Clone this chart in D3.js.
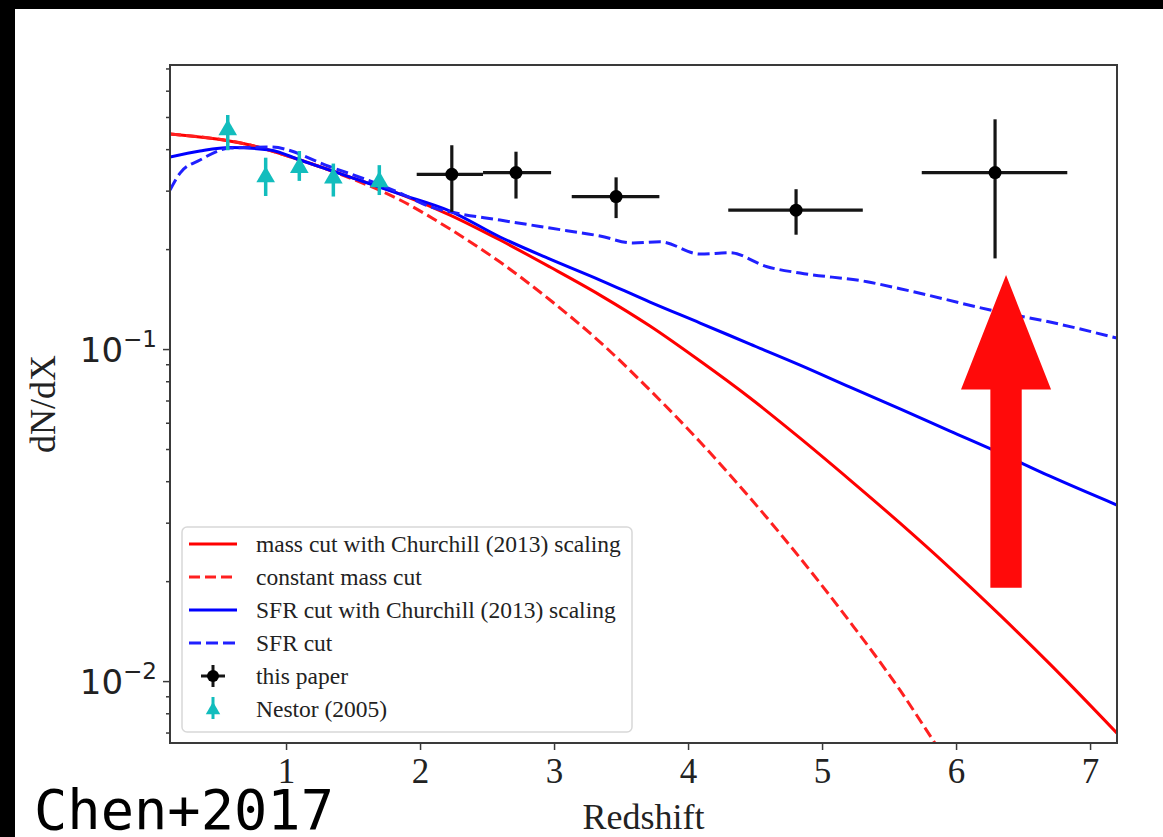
<!DOCTYPE html>
<html>
<head>
<meta charset="utf-8">
<script src="https://cdn.jsdelivr.net/npm/d3@7"></script>
<style>
  html, body { margin: 0; background: #000; }
  svg { display: block; }
</style>
</head>
<body>
<svg id="chart" width="1163" height="837"></svg>
<script>
// model curves: [redshift, dN/dX]
const massChurchill = [[0.134,0.4443],[0.731,0.4116],[1.104,0.371],[1.478,0.3296],[1.851,0.293],[2.224,0.2533],
  [2.597,0.213],[2.970,0.1766],[3.343,0.1454],[3.716,0.1173],[4.090,0.092],[4.463,0.0712],[4.836,0.0539],
  [5.209,0.0403],[5.582,0.0299],[5.955,0.0219],[6.328,0.0158],[6.701,0.01125],[7.201,0.00697]];
const constMass = [[0.134,0.4443],[0.731,0.4116],[1.104,0.371],[1.478,0.3274],[1.851,0.2811],[2.224,0.2298],
  [2.597,0.1828],[2.970,0.1405],[3.343,0.105],[3.716,0.0752],[4.090,0.0525],[4.463,0.0356],[4.836,0.02348],
  [5.209,0.01506],[5.582,0.00939],[5.828,0.00664],[5.955,0.00555]];
const sfrChurchill = [[0.134,0.3787],[0.358,0.3948],[0.582,0.4045],[0.881,0.3976],[1.104,0.371],[1.478,0.3296],
  [1.851,0.293],[2.224,0.2604],[2.597,0.2175],[2.970,0.1866],[3.343,0.1614],[3.716,0.1385],[4.090,0.1198],
  [4.463,0.1035],[4.836,0.0895],[5.209,0.0768],[5.582,0.066],[5.955,0.0566],[6.328,0.0486],[6.701,0.0414],
  [7.201,0.0339]];
const sfrCut = [[0.134,0.3012],[0.209,0.3389],[0.358,0.371],[0.582,0.4031],[0.881,0.4059],[1.328,0.3541],
  [1.851,0.2951],[2.075,0.2683],[2.224,0.259],[2.597,0.2446],[2.970,0.2314],[3.343,0.219],[3.590,0.2086],
  [3.791,0.2105],[4.090,0.1932],[4.313,0.195],[4.590,0.1769],[4.836,0.1694],[5.336,0.1595],[5.582,0.152],
  [6.328,0.1292],[6.701,0.1206],[7.201,0.1079]];

// this paper: z, z range, dN/dX, dN/dX range
const paperZ   = [2.237, 2.716, 3.463, 4.806, 6.291];
const paperZlo = [1.975, 2.470, 3.132, 4.300, 5.744];
const paperZhi = [2.470, 2.978, 3.786, 5.304, 6.830];
const paperN   = [0.336, 0.340, 0.288, 0.262, 0.340];
const paperNlo = [0.259, 0.284, 0.248, 0.221, 0.1875];
const paperNhi = [0.411, 0.393, 0.329, 0.303, 0.492];

// Nestor (2005)
const nestorZ   = [0.565, 0.848, 1.099, 1.353, 1.696];
const nestorN   = [0.457, 0.330, 0.352, 0.327, 0.319];
const nestorNlo = [0.397, 0.289, 0.321, 0.288, 0.291];
const nestorNhi = [0.507, 0.377, 0.395, 0.362, 0.358];

const xTicks = [1, 2, 3, 4, 5, 6, 7];
const yMajor = [0.01, 0.1];
const yMinor = [0.007, 0.008, 0.009, 0.02, 0.03, 0.04, 0.05, 0.06, 0.07, 0.08, 0.09, 0.2, 0.3, 0.4, 0.5, 0.6, 0.7];

const legendLabels = ["mass cut with Churchill (2013) scaling", "constant mass cut",
  "SFR cut with Churchill (2013) scaling", "SFR cut", "this paper", "Nestor (2005)"];

// annotation arrow (data coords)
const arrowZ = 6.373, arrowTip = 0.167, arrowHeadBase = 0.0756, arrowTail = 0.0191;
const arrowHeadHalf = 0.336, arrowShaftHalf = 0.117;

const svg = d3.select("#chart");
const margin = { left: 170, top: 65, right: 1117, bottom: 743 };

svg.append("rect").attr("x", 15).attr("y", 9).attr("width", 1148).attr("height", 828).attr("fill", "#fff");

const x = d3.scaleLinear().domain([0.134, 7.201]).range([margin.left, margin.right]);
const y = d3.scaleLog().domain([0.00651, 0.717]).range([margin.bottom, margin.top]);

svg.append("clipPath").attr("id", "clip").append("rect")
  .attr("x", margin.left).attr("y", margin.top)
  .attr("width", margin.right - margin.left).attr("height", margin.bottom - margin.top);

const plot = svg.append("g").attr("clip-path", "url(#clip)");

const line = d3.line().x(d => x(d[0])).y(d => y(d[1])).curve(d3.curveMonotoneX);

const curves = [
  { data: massChurchill, color: "#ff0000", dash: null },
  { data: constMass, color: "#ff2020", dash: "11,5" },
  { data: sfrChurchill, color: "#0000ff", dash: null },
  { data: sfrCut, color: "#2020ff", dash: "12,5" }
];

curves.forEach(c => {
  plot.append("path").datum(c.data)
    .attr("d", line)
    .attr("fill", "none")
    .attr("stroke", c.color)
    .attr("stroke-width", 3)
    .attr("stroke-dasharray", c.dash);
});

// this paper
const ink = "#151515";
paperZ.forEach((z, i) => {
  const g = plot.append("g");
  g.append("line").attr("x1", x(paperZlo[i])).attr("x2", x(paperZhi[i]))
    .attr("y1", y(paperN[i])).attr("y2", y(paperN[i]))
    .attr("stroke", ink).attr("stroke-width", 3.2);
  g.append("line").attr("x1", x(z)).attr("x2", x(z))
    .attr("y1", y(paperNlo[i])).attr("y2", y(paperNhi[i]))
    .attr("stroke", ink).attr("stroke-width", 3.2);
  g.append("circle").attr("cx", x(z)).attr("cy", y(paperN[i])).attr("r", 6.5).attr("fill", "#000");
});

// Nestor
const cyan = "#12bdbd";
const tri = d3.symbol().type(d3.symbolTriangle).size(150);
nestorZ.forEach((z, i) => {
  plot.append("line").attr("x1", x(z)).attr("x2", x(z))
    .attr("y1", y(nestorNlo[i])).attr("y2", y(nestorNhi[i]))
    .attr("stroke", cyan).attr("stroke-width", 3.5);
  plot.append("path").attr("d", tri)
    .attr("transform", `translate(${x(z)},${y(nestorN[i])})`)
    .attr("fill", cyan);
});

// axes
const axisColor = "#3a3a3a";
const xAxis = svg.append("g").attr("transform", `translate(0,${margin.bottom})`)
  .call(d3.axisBottom(x).tickValues(xTicks).tickSize(7).tickPadding(8).tickFormat(d3.format("d")));
xAxis.select(".domain").remove();
xAxis.selectAll("line").attr("stroke", axisColor).attr("stroke-width", 1.5);
xAxis.selectAll("text").attr("font-family", "'Liberation Serif', 'Times New Roman', serif")
  .attr("font-size", 35).attr("fill", "#222");

const yMin = svg.append("g").attr("transform", `translate(${margin.left},0)`)
  .call(d3.axisLeft(y).tickValues(yMinor).tickSize(4).tickFormat(""));
const yMaj = svg.append("g").attr("transform", `translate(${margin.left},0)`)
  .call(d3.axisLeft(y).tickValues(yMajor).tickSize(7).tickFormat(""));
[yMin, yMaj].forEach(a => {
  a.select(".domain").remove();
  a.selectAll("line").attr("stroke", axisColor).attr("stroke-width", 1.5);
});

yMajor.forEach(v => {
  const t = svg.append("text")
    .attr("x", 157).attr("y", y(v) + 13)
    .attr("text-anchor", "end")
    .attr("font-family", "'DejaVu Sans', sans-serif")
    .attr("fill", "#222");
  t.append("tspan").attr("font-size", 34).text("10");
  t.append("tspan").attr("font-size", 23).attr("dy", -15).text("\u2212" + Math.round(-Math.log10(v)));
});

// spines
svg.append("rect")
  .attr("x", margin.left).attr("y", margin.top)
  .attr("width", margin.right - margin.left).attr("height", margin.bottom - margin.top)
  .attr("fill", "none").attr("stroke", axisColor).attr("stroke-width", 2);

// axis labels
svg.append("text")
  .attr("x", (margin.left + margin.right) / 2).attr("y", 829)
  .attr("text-anchor", "middle")
  .attr("font-family", "'Liberation Serif', 'Times New Roman', serif")
  .attr("font-size", 36).attr("fill", "#222")
  .text("Redshift");

svg.append("text")
  .attr("transform", `translate(55,${(margin.top + margin.bottom) / 2}) rotate(-90)`)
  .attr("text-anchor", "middle")
  .attr("font-family", "'Liberation Serif', 'Times New Roman', serif")
  .attr("font-size", 36).attr("fill", "#222")
  .text("dN/dX");

// legend
const leg = svg.append("g");
leg.append("rect").attr("x", 182).attr("y", 527).attr("width", 450).attr("height", 205)
  .attr("rx", 5).attr("fill", "#fff").attr("fill-opacity", 0.85)
  .attr("stroke", "#d8d8d8").attr("stroke-width", 1.5);

const rowY = i => 544 + i * 33;
curves.forEach((c, i) => {
  leg.append("line").attr("x1", 189).attr("x2", 237).attr("y1", rowY(i)).attr("y2", rowY(i))
    .attr("stroke", c.color).attr("stroke-width", 3).attr("stroke-dasharray", c.dash);
});
// this paper handle
leg.append("line").attr("x1", 201).attr("x2", 225).attr("y1", rowY(4)).attr("y2", rowY(4))
  .attr("stroke", ink).attr("stroke-width", 3);
leg.append("line").attr("x1", 213).attr("x2", 213).attr("y1", rowY(4) - 11).attr("y2", rowY(4) + 11)
  .attr("stroke", ink).attr("stroke-width", 3);
leg.append("circle").attr("cx", 213).attr("cy", rowY(4)).attr("r", 6).attr("fill", "#000");
// Nestor handle
leg.append("line").attr("x1", 213).attr("x2", 213).attr("y1", rowY(5) - 12).attr("y2", rowY(5) + 10)
  .attr("stroke", cyan).attr("stroke-width", 3);
leg.append("path").attr("d", d3.symbol().type(d3.symbolTriangle).size(90))
  .attr("transform", `translate(213,${rowY(5) + 1})`).attr("fill", cyan);

legendLabels.forEach((l, i) => {
  leg.append("text").attr("x", 256).attr("y", rowY(i) + 8)
    .attr("font-family", "'Liberation Serif', 'Times New Roman', serif")
    .attr("font-size", 23.5).attr("fill", "#222")
    .text(l);
});

// red annotation arrow
const ax = x(arrowZ);
const hw = x(arrowZ + arrowHeadHalf) - ax;
const sw = x(arrowZ + arrowShaftHalf) - ax;
const pts = [
  [ax, y(arrowTip)],
  [ax + hw, y(arrowHeadBase)],
  [ax + sw, y(arrowHeadBase)],
  [ax + sw, y(arrowTail)],
  [ax - sw, y(arrowTail)],
  [ax - sw, y(arrowHeadBase)],
  [ax - hw, y(arrowHeadBase)]
];
svg.append("polygon").attr("points", pts.map(p => p.join(",")).join(" ")).attr("fill", "#ff0a0a");

// corner tag
svg.append("text").attr("x", 34).attr("y", 829)
  .attr("font-family", "'DejaVu Sans Mono', monospace")
  .attr("font-size", 56).attr("fill", "#000")
  .attr("textLength", 300).attr("lengthAdjust", "spacingAndGlyphs")
  .text("Chen+2017");
</script>
</body>
</html>
